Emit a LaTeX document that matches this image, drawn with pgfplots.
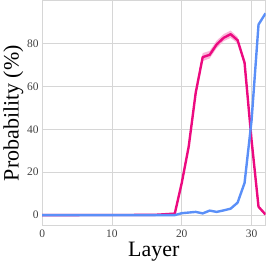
\documentclass[border=0pt]{standalone}
\usepackage{pgfplots}
\pgfplotsset{compat=1.18}
\usepgfplotslibrary{fillbetween}
\usepackage{fontspec}
\setmainfont{Liberation Serif}
\definecolor{mag}{HTML}{EC0A80}
\definecolor{blu}{HTML}{5A8FF8}
\definecolor{gridc}{HTML}{D6D6D6}
\begin{document}
\begin{tikzpicture}
\begin{axis}[
  scale only axis,
  width=223bp, height=225bp,
  xmin=0, xmax=32, ymin=-5, ymax=100,
  xtick={0,10,20,30}, ytick={0,20,40,60,80},
  grid=major,
  major grid style={gridc, line width=0.8pt},
  axis line style={gridc, line width=1pt},
  tick style={draw=none},
  tick label style={font=\fontsize{11.5}{13}\selectfont, text=black!75},
  /pgf/number format/assume math mode=true,
  xlabel={Layer}, ylabel={Probability (\%)},
  label style={font=\fontsize{22}{24}\selectfont},
  xlabel style={yshift=2pt},
  ylabel style={yshift=-3pt},
  clip=true,
]
\addplot[name path=up, draw=none, forget plot] coordinates {
(0,0.3)(16,0.3)(17,0.5)(18,0.8)(19,1.2)(20,16)(21,33)(22,58.5)(23,75.5)(24,76.5)(25,81.3)(26,84.3)(27,86)(28,83)(29,72.3)(30,36)(31,4.6)(32,0.8)};
\addplot[name path=lo, draw=none, forget plot] coordinates {
(0,0)(16,0)(17,0.1)(18,0.2)(19,0.3)(20,14)(21,31)(22,55.5)(23,71.8)(24,73)(25,77.8)(26,81)(27,82.6)(28,80)(29,69.8)(30,34)(31,3.2)(32,0)};
\addplot[mag!30, forget plot] fill between[of=up and lo];
\addplot[mag, line width=2.4pt, line join=round] coordinates {
(0,0)(16,0.1)(17,0.3)(18,0.5)(19,0.7)(20,15)(21,32)(22,57)(23,73.6)(24,74.7)(25,79.5)(26,82.6)(27,84.3)(28,81.5)(29,71)(30,35)(31,3.9)(32,0.3)};
\addplot[blu, line width=2.4pt, line join=round] coordinates {
(0,0)(19,0)(20,0.9)(21,1.2)(22,1.5)(23,0.8)(24,2.1)(25,1.5)(26,2.2)(27,3)(28,5.8)(29,15)(30,44)(31,88.8)(32,94)};
\end{axis}
\end{tikzpicture}
\end{document}
